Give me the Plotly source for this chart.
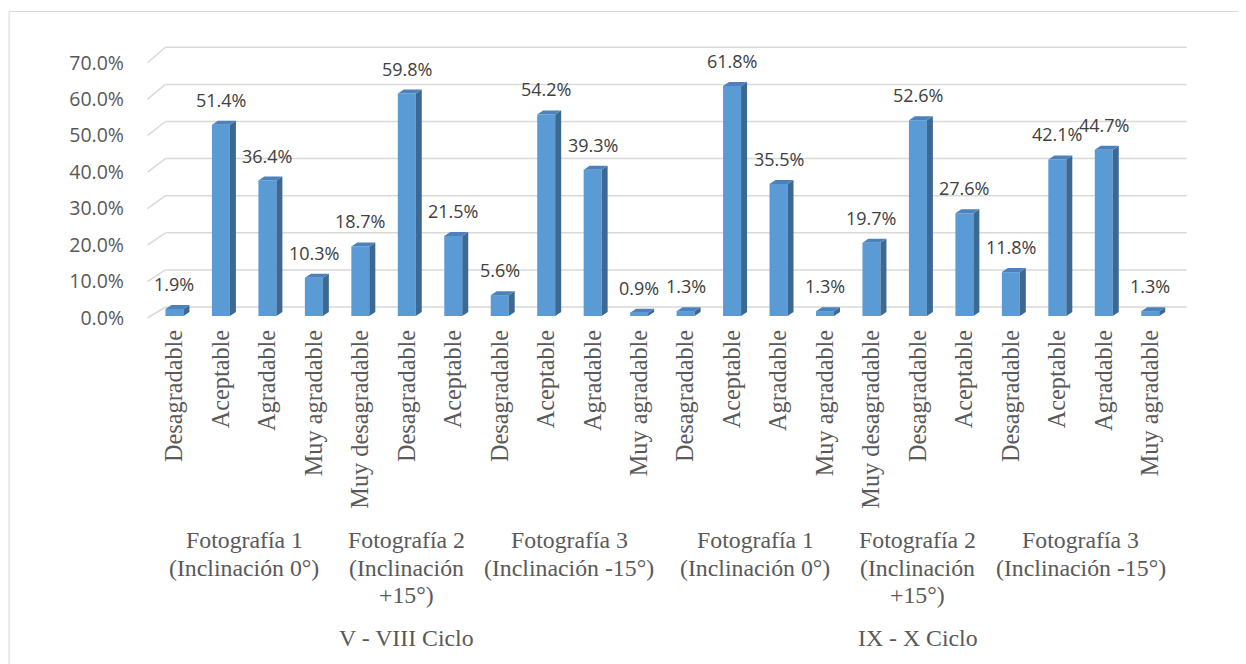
import plotly.graph_objects as go

# ---------------- data ----------------
cycles = ["V - VIII Ciclo", "IX - X Ciclo"]
photo_lines = [
    ["Fotografía 1", "(Inclinación 0°)"],
    ["Fotografía 2", "(Inclinación", "+15°)"],
    ["Fotografía 3", "(Inclinación -15°)"],
]
ratings_f1 = ["Desagradable", "Aceptable", "Agradable", "Muy agradable"]
ratings_f2 = ["Muy desagradable", "Desagradable", "Aceptable"]
ratings_f3 = ["Desagradable", "Aceptable", "Agradable", "Muy agradable"]
photo_ratings = [ratings_f1, ratings_f2, ratings_f3]

values_v_viii = [1.9, 51.4, 36.4, 10.3, 18.7, 59.8, 21.5, 5.6, 54.2, 39.3, 0.9]
values_ix_x = [1.3, 61.8, 35.5, 1.3, 19.7, 52.6, 27.6, 11.8, 42.1, 44.7, 1.3]
cycle_values = [values_v_viii, values_ix_x]

y_ticks = [0, 10, 20, 30, 40, 50, 60, 70]
y_tick_text = [f"{v:.1f}%" for v in y_ticks]

# ---------------- build flat arrays ----------------
labels, values, photo_spans, cycle_spans = [], [], [], []
idx = 0
for ci, cvals in enumerate(cycle_values):
    c_start = idx
    k = 0
    for pi, pr in enumerate(photo_ratings):
        p_start = idx
        for r in pr:
            labels.append(r)
            values.append(cvals[k])
            k += 1
            idx += 1
        photo_spans.append((pi, p_start, idx - 1))
    cycle_spans.append((ci, c_start, idx - 1))
xs = list(range(len(values)))

# ---------------- geometry (page px; page body has an 8px margin) ----------------
OFF = 8
W, H = 1246 - OFF, 664 - OFF
CAT0_PX, CAT_PX = 174.0 - OFF, 46.5
X_MIN, X_MAX = -1.0, 22.2
L = CAT0_PX + X_MIN * CAT_PX
R = CAT0_PX + X_MAX * CAT_PX
T, B = 42.0 - OFF, 324.0 - OFF
PH = B - T

Y1_ZERO, Y1_SCALE = 316.0 - OFF, 3.72    # bar front plane
Y2_ZERO, Y2_SCALE = 318.0 - OFF, 3.647   # label plane
Y3_ZERO, Y3_SCALE = 307.0 - OFF, 3.71    # back wall


def yr(zero_px, s):
    return [(zero_px - B) / s, (zero_px - T) / s]


def x_of_px(px):
    return (px - OFF - CAT0_PX) / CAT_PX


def paper_x(px):
    return (px - OFF - L) / (R - L)


def paper_y(py):
    return (B - (py - OFF)) / PH


BW = 18 / CAT_PX
DXD = 6 / CAT_PX
DYD = 4 / Y1_SCALE

FRONT = "#5B9BD5"
SIDE = "#3C6993"
TOP = "#4C82BC"
GRID = "#D9D9D9"

fig = go.Figure()
fig.add_trace(go.Bar(x=xs, y=values, width=BW, marker=dict(color=FRONT, line=dict(width=0)),
                     hoverinfo="skip", showlegend=False))
fig.add_trace(go.Scatter(x=[None], y=[None], yaxis="y2", showlegend=False, hoverinfo="skip"))
fig.add_trace(go.Scatter(x=[None], y=[None], yaxis="y3", showlegend=False, hoverinfo="skip"))

shapes = []
# back-wall gridlines and left floor stubs
for v in y_ticks:
    shapes.append(dict(type="line", xref="x", yref="y3", x0=x_of_px(165), x1=x_of_px(1187),
                       y0=v, y1=v, line=dict(color=GRID, width=1.5), layer="below"))
    front_px = Y2_ZERO - Y2_SCALE * v
    shapes.append(dict(type="line", xref="x", yref="y3", x0=x_of_px(147), x1=x_of_px(165),
                       y0=(Y3_ZERO - front_px) / Y3_SCALE, y1=v,
                       line=dict(color=GRID, width=1.5), layer="below"))

# 3D faces for bars
for x, v in zip(xs, values):
    xl, xr = x - BW / 2, x + BW / 2
    side = f"M {xr},0 L {xr + DXD},{DYD} L {xr + DXD},{v + DYD} L {xr},{v} Z"
    top = f"M {xl},{v} L {xl + DXD},{v + DYD} L {xr + DXD},{v + DYD} L {xr},{v} Z"
    shapes.append(dict(type="path", xref="x", yref="y", path=side, fillcolor=SIDE,
                       line=dict(width=0), layer="above"))
    shapes.append(dict(type="path", xref="x", yref="y", path=top, fillcolor=TOP,
                       line=dict(width=0), layer="above"))

# outer border
shapes.append(dict(type="rect", xref="paper", yref="paper", x0=paper_x(8.5), x1=paper_x(1246 + 10),
                   y0=paper_y(664 + 10), y1=paper_y(11.5), line=dict(color=GRID, width=1),
                   fillcolor="rgba(0,0,0,0)", layer="below"))

annotations = []
for x, v in zip(xs, values):
    annotations.append(dict(x=x, y=v, xref="x", yref="y", text=f"{v:.1f}%", showarrow=False,
                            yanchor="bottom", yshift=11,
                            font=dict(family="Open Sans", size=18, color="#404040")))

serif_group = dict(family="Liberation Serif", size=23.8, color="#595959")
serif_tick = dict(family="Liberation Serif", size=24.3, color="#595959")
line_centers = [540, 568, 595]
for pi, s, e in photo_spans:
    cx = (s + e) / 2
    for li, txt in enumerate(photo_lines[pi]):
        annotations.append(dict(x=cx, y=paper_y(line_centers[li]), xref="x", yref="paper",
                                text=txt, showarrow=False, yanchor="middle", font=serif_group))
for ci, s, e in cycle_spans:
    annotations.append(dict(x=(s + e) / 2, y=paper_y(638), xref="x", yref="paper",
                            text=cycles[ci], showarrow=False, yanchor="middle", font=serif_group))

fig.update_layout(
    width=W, height=H,
    margin=dict(l=L, r=W - R, t=T, b=H - B, pad=0),
    paper_bgcolor="white", plot_bgcolor="white",
    showlegend=False,
    shapes=shapes, annotations=annotations,
    xaxis=dict(range=[X_MIN, X_MAX], tickvals=xs, ticktext=labels, tickangle=-90,
               tickfont=serif_tick, showgrid=False, zeroline=False, showline=False, ticks=""),
    yaxis=dict(range=yr(Y1_ZERO, Y1_SCALE), visible=False, showgrid=False, zeroline=False),
    yaxis2=dict(range=yr(Y2_ZERO, Y2_SCALE), overlaying="y", side="left", tickvals=y_ticks,
                ticktext=y_tick_text, showgrid=False, zeroline=False, showline=False,
                ticks="", ticklabelstandoff=3,
                tickfont=dict(family="Open Sans", size=19.5, color="#595959")),
    yaxis3=dict(range=yr(Y3_ZERO, Y3_SCALE), overlaying="y", visible=False,
                showgrid=False, zeroline=False),
)

fig.write_html("out.html")
